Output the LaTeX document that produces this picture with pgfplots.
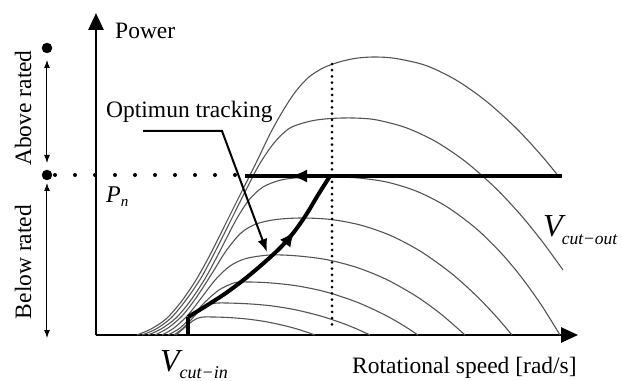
\documentclass[border=0pt]{standalone}
\usepackage{fontspec}
\setmainfont{Liberation Serif}
\usepackage{pgfplots}
\pgfplotsset{compat=1.18}
\usetikzlibrary{arrows.meta,decorations.markings}
\definecolor{curve}{gray}{0.33}
\newcommand{\fs}{\fontsize{23.5bp}{28bp}\selectfont}
\begin{document}
\begin{tikzpicture}
\useasboundingbox (-96bp,-46bp) rectangle (526bp,335bp);
\begin{axis}[
  at={(0,0)}, anchor=south west,
  scale only axis, width=482bp, height=322bp,
  xmin=0, xmax=482, ymin=0, ymax=322,
  axis x line=bottom, axis y line=left,
  axis line style={line width=2.6bp,-{Triangle[length=17bp,width=15bp]}},
  xtick=\empty, ytick=\empty,
  clip=false,
  pc/.style={curve, solid, line width=1.1bp, smooth, no markers},
]
% power curves (a lowest ... h highest)
\addplot[pc] coordinates {(80,0)(87,6)(94,12)(100,16)(108,18)(130,17.6)(150,16.1)(170,13.3)(190,9)(205,4.8)(219,0)};
\addplot[pc] coordinates {(78,0)(86,6)(94,14)(102,23)(110,29.5)(122,32)(150,31.3)(175,29.2)(200,25.1)(225,18.9)(245,12.3)(260,6.4)(274,0)};
\addplot[pc] coordinates {(72,0)(84,7)(97,20)(110,34)(123,45)(135,51)(144,53)(170,52.4)(200,49.3)(230,43.1)(260,33.2)(285,22)(305,11)(322,0)};
\addplot[pc] coordinates {(66,0)(78,7)(92,20)(106,38)(120,56)(134,69)(150,76.5)(174,80)(200,79.2)(230,75.5)(260,67.8)(290,55.8)(320,38.9)(345,20.9)(369,0)};
\addplot[pc] coordinates {(59,0)(72,7)(86,19)(100,37)(115,60)(130,84)(145,102)(160,111)(180,115.5)(206,117)(235,115.5)(265,109.8)(295,99.3)(325,83.4)(355,61.9)(380,39.6)(400,18.7)(416,0)};
\addplot[pc] coordinates {(52,0)(65,6)(80,17)(95,35)(110,58)(125,86)(140,115)(153,135)(167,148)(185,155)(205,157.5)(232,158)(260,157.2)(290,153.1)(320,144)(350,128.8)(380,106.6)(405,82.1)(425,58.3)(445,30.5)(464,0)};
\addplot[pc] coordinates {(46,0)(60,6)(75,17)(90,35)(105,57)(120,85)(135,115)(150,145)(163,170)(178,192)(194,207)(215,214)(235,216.5)(257,217)(280,215.2)(310,207.3)(340,193.3)(370,173)(400,146.5)(425,119.7)(447,92.5)(467,65)};
\addplot[pc] coordinates {(41,0)(55,6)(70,16)(85,33)(100,55)(115,82)(130,112)(145,142)(160,172)(175,203)(188,226)(200,244)(213,258)(228,267.5)(245,273.5)(262,277)(280,278)(300,276.5)(330,269.5)(360,255)(390,234)(420,207)(445,180)(464,157)};
% dotted guides
\addplot[black, solid, line width=4bp, line cap=round, dash pattern=on 0bp off 20bp] coordinates {(-41,160)(149,160)};
\addplot[black, solid, line width=3bp, line cap=round, dash pattern=on 0bp off 6.2bp] coordinates {(236,271)(236,5)};
% optimum tracking
\addplot[black, solid, line width=4bp] coordinates {(92,0)(92,18)};
\addplot[black, solid, smooth, line width=4bp, postaction={decorate},
  decoration={markings, mark=at position 0.68 with {\arrow{Latex[length=16bp,width=13bp]}}}]
  coordinates {(92,18)(110,29)(130,42)(150,57)(170,74)(185,88)(198,103)(210,120)(222,140)(234,159)};
\addplot[black, solid, line width=3.5bp, postaction={decorate},
  decoration={markings, mark=at position 0.858 with {\arrow{Latex[length=17bp,width=13bp]}}}]
  coordinates {(466,159)(149,159)};
% left markers
\addplot[black, only marks, mark=*, mark size=5bp] coordinates {(-49,287)(-49,160)};
\draw[line width=1bp, {Latex[length=8bp,width=6bp]}-{Latex[length=8bp,width=6bp]}] (axis cs:-49,275) -- (axis cs:-49,172);
\draw[line width=1bp, {Latex[length=8bp,width=6bp]}-{Latex[length=8bp,width=6bp]}] (axis cs:-49,152) -- (axis cs:-49,-3);
% pointer
\draw[line width=2bp, -{Latex[length=13bp,width=10bp]}] (axis cs:47,204) -- (axis cs:126,204) -- (axis cs:171,83);
% texts
\node[anchor=base west, inner sep=0, font=\fs] at (axis cs:19,296) {Power};
\node[anchor=base west, inner sep=0, font=\fs] at (axis cs:256,-38) {Rotational speed [rad/s]};
\node[anchor=base west, inner sep=0, font=\fs] at (axis cs:10,217) {Optimun tracking};
\node[rotate=90, inner sep=0, font=\fs] at (axis cs:-73,227) {Above rated};
\node[rotate=90, inner sep=0, font=\fs] at (axis cs:-73,73) {Below rated};
\node[anchor=base west, inner sep=0] at (axis cs:10,132) {\fontsize{24bp}{24bp}\selectfont\itshape P\raisebox{-4bp}{\fontsize{15bp}{15bp}\selectfont n}};
\node[anchor=base west, inner sep=0] at (axis cs:64,-36) {\fontsize{32bp}{32bp}\selectfont\itshape V\raisebox{-7bp}{\fontsize{18bp}{18bp}\selectfont cut−in}};
\node[anchor=base west, inner sep=0] at (axis cs:447,98) {\fontsize{32bp}{32bp}\selectfont\itshape V\kern-1bp\raisebox{-8bp}{\fontsize{17.5bp}{17.5bp}\selectfont cut−out}};
\end{axis}
\end{tikzpicture}
\end{document}
